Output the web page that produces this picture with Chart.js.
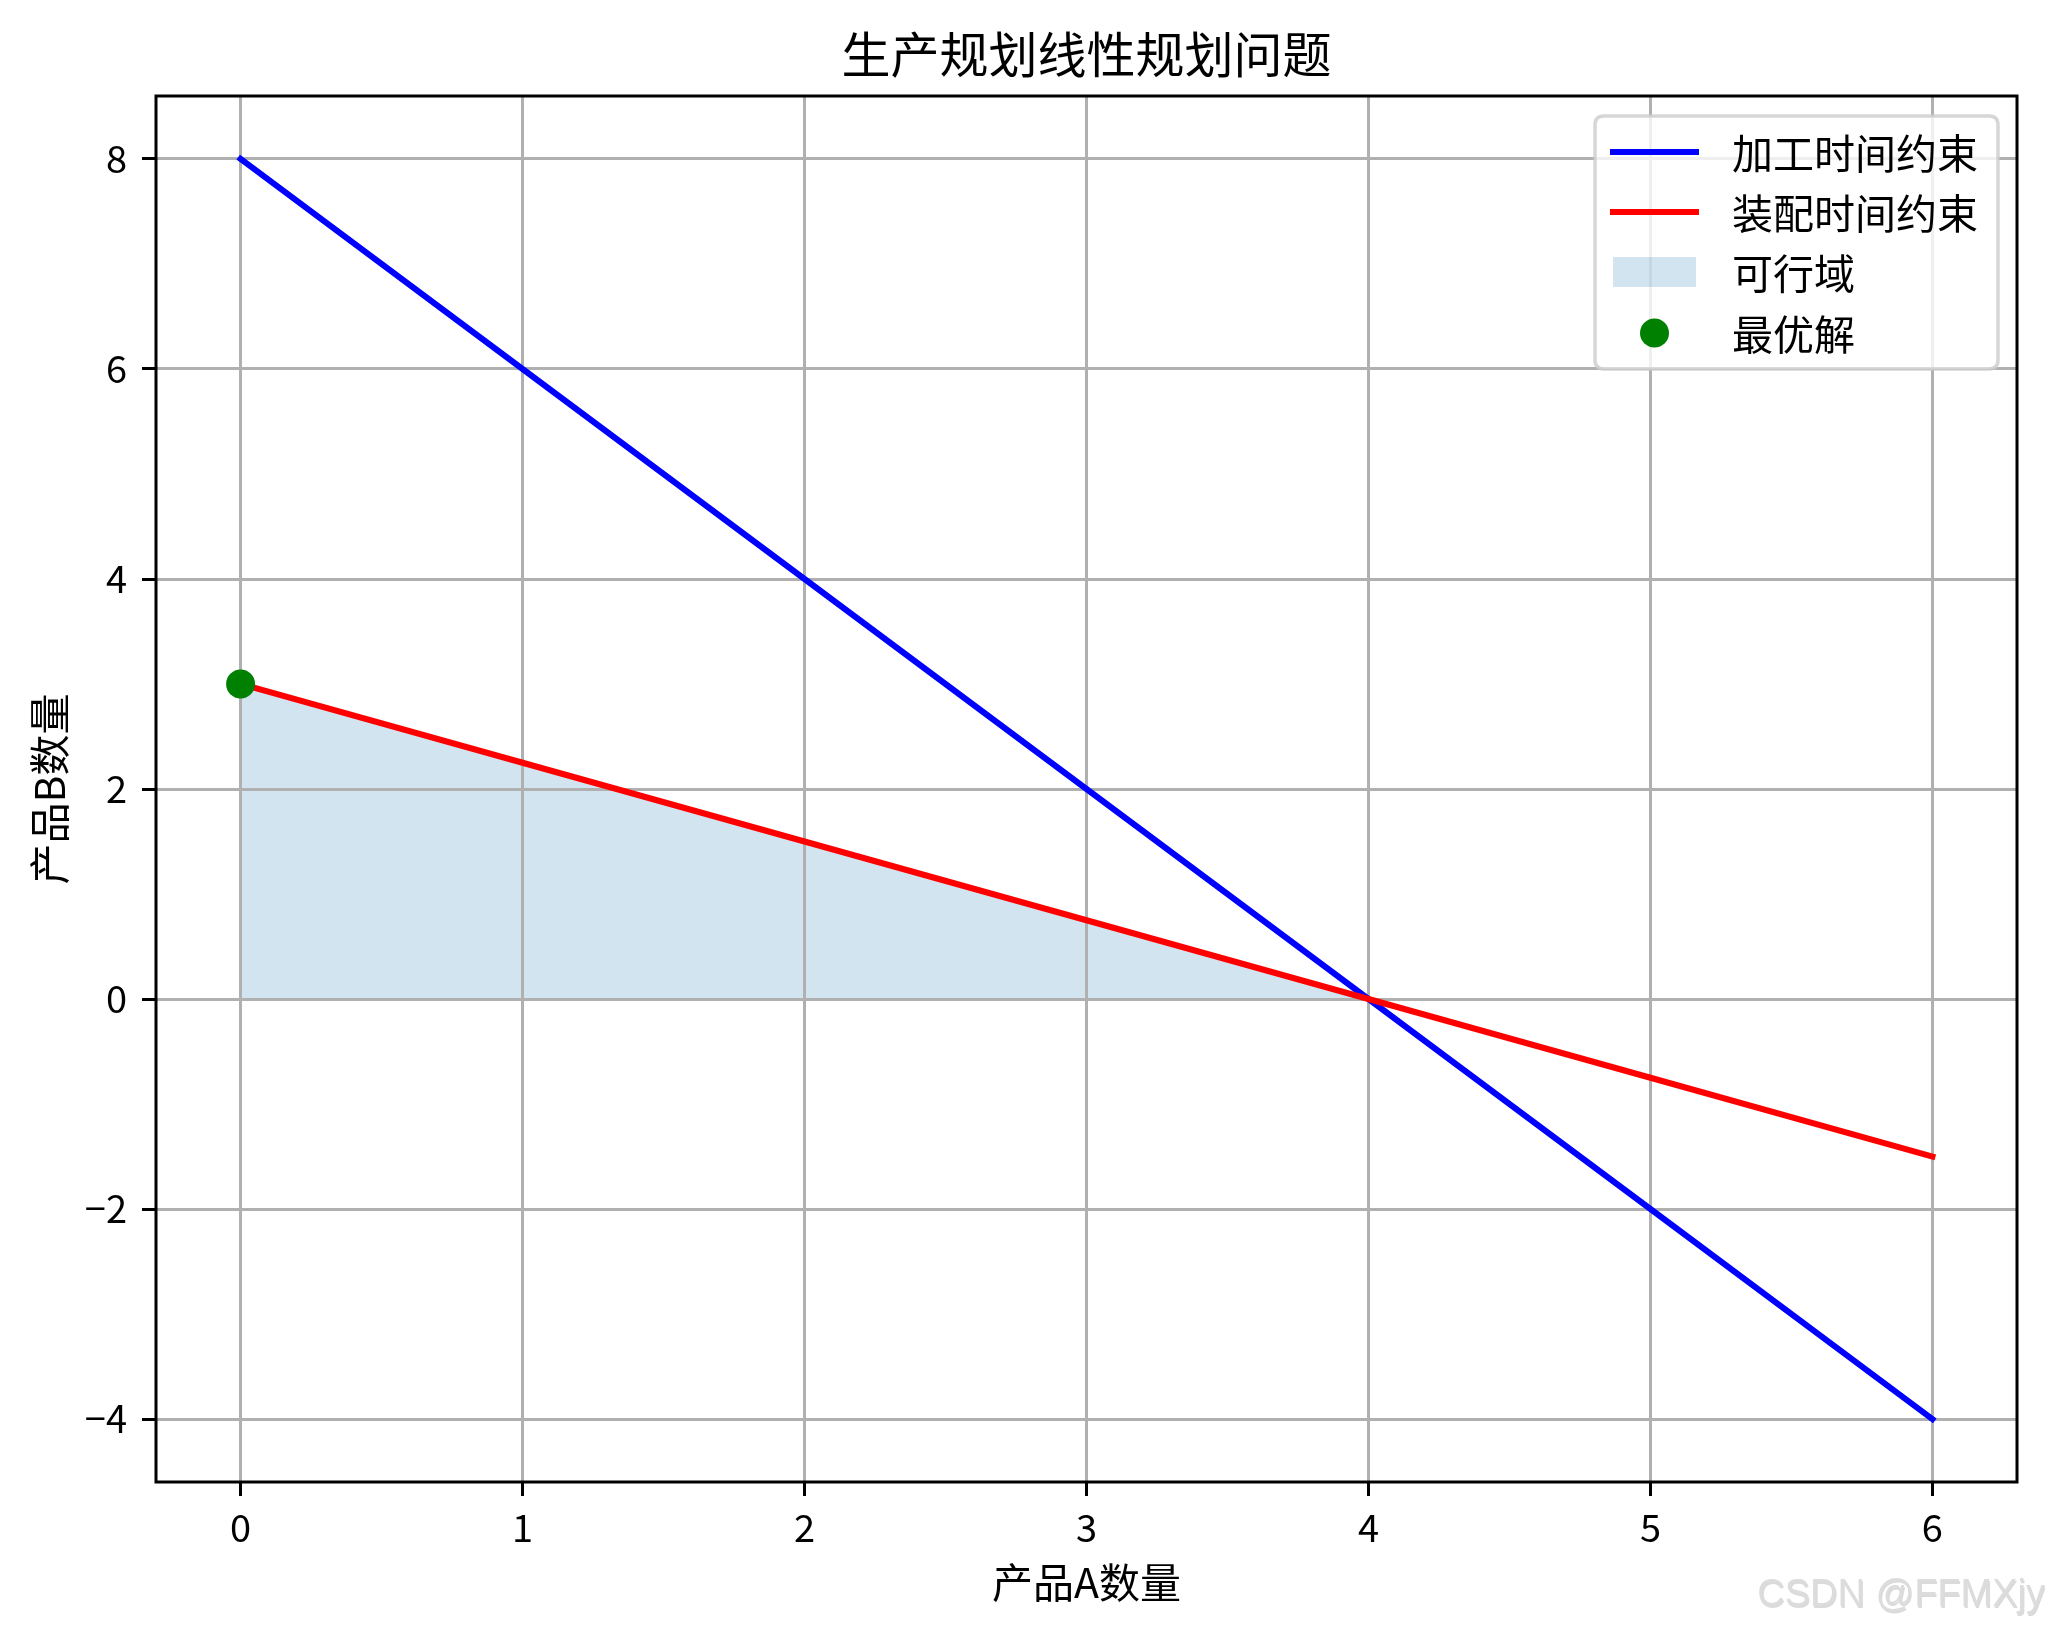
<!DOCTYPE html>
<html><head><meta charset="utf-8">
<script src="https://cdn.jsdelivr.net/npm/chart.js@4/dist/chart.umd.min.js"></script>
<style>html,body{margin:0;padding:0;background:#fff;overflow:hidden}canvas{display:block}</style>
</head><body>
<canvas id="c" width="2045" height="1631" style="width:2045px;height:1631px"></canvas>
<script>
// ---- data ----
const xValues = [0, 1, 2, 3, 4, 5, 6];
const machiningY = [8, 6, 4, 2, 0, -2, -4];          // 加工时间约束
const assemblyY = [3, 2.25, 1.5, 0.75, 0, -0.75, -1.5]; // 装配时间约束
const feasibleX = [0, 1, 2, 3, 4];
const feasibleY = [3, 2.25, 1.5, 0.75, 0];           // 可行域 upper edge
const optimumX = [0];
const optimumY = [3];                                 // 最优解
const xTicks = [0, 1, 2, 3, 4, 5, 6];
const yTicks = [-4, -2, 0, 2, 4, 6, 8];
const seriesNames = ['加工时间约束', '装配时间约束', '可行域', '最优解'];
const chartTitle = '生产规划线性规划问题';
const xAxisTitle = '产品A数量';
const yAxisTitle = '产品B数量';
const watermark = 'CSDN @FFMXjy';

const FONT = "'Noto Sans CJK SC', 'Noto Sans', sans-serif";
const BLUE = '#0000ff', RED = '#ff0000', FILL = 'rgba(31,119,180,0.2)', GREEN = '#008000';

function pts(xs, ys) { return xs.map((x, i) => ({ x: x, y: ys[i] })); }
function fmt(v) { return v < 0 ? '\u2212' + Math.abs(v) : String(v); }

const decor = {
  id: 'mplDecor',
  afterDatasetsDraw(chart) {
    const ctx = chart.ctx, a = chart.chartArea;
    ctx.save();
    ctx.strokeStyle = '#000';
    ctx.lineWidth = 3;
    ctx.strokeRect(a.left, a.top, a.right - a.left, a.bottom - a.top);
    ctx.restore();
  },
  afterDraw(chart) {
    const ctx = chart.ctx, a = chart.chartArea;
    const cx = (a.left + a.right) / 2, cy = (a.top + a.bottom) / 2;
    ctx.save();
    ctx.fillStyle = '#000';
    ctx.textBaseline = 'middle';
    ctx.textAlign = 'center';
    // title
    ctx.font = '49px ' + FONT;
    ctx.fillText(chartTitle, cx, 54);
    // axis titles
    ctx.font = '41px ' + FONT;
    ctx.fillText(xAxisTitle, cx, 1582);
    ctx.save();
    ctx.translate(49, cy);
    ctx.rotate(-Math.PI / 2);
    ctx.fillText(yAxisTitle, 0, 0);
    ctx.restore();

    // legend
    const lx = a.right - 422, ly = a.top + 20, lw = 403, lh = 253, r = 9;
    ctx.beginPath();
    ctx.moveTo(lx + r, ly);
    ctx.lineTo(lx + lw - r, ly); ctx.quadraticCurveTo(lx + lw, ly, lx + lw, ly + r);
    ctx.lineTo(lx + lw, ly + lh - r); ctx.quadraticCurveTo(lx + lw, ly + lh, lx + lw - r, ly + lh);
    ctx.lineTo(lx + r, ly + lh); ctx.quadraticCurveTo(lx, ly + lh, lx, ly + lh - r);
    ctx.lineTo(lx, ly + r); ctx.quadraticCurveTo(lx, ly, lx + r, ly);
    ctx.closePath();
    ctx.fillStyle = 'rgba(255,255,255,0.8)';
    ctx.fill();
    ctx.strokeStyle = 'rgba(204,204,204,0.8)';
    ctx.lineWidth = 3.5;
    ctx.stroke();

    const hx0 = lx + 15, hx1 = lx + 104, tx = lx + 137;
    const rows = [ly + 36, ly + 96, ly + 156, ly + 217];
    ctx.lineCap = 'butt';
    ctx.lineWidth = 6;
    ctx.strokeStyle = BLUE;
    ctx.beginPath(); ctx.moveTo(hx0, rows[0]); ctx.lineTo(hx1, rows[0]); ctx.stroke();
    ctx.strokeStyle = RED;
    ctx.beginPath(); ctx.moveTo(hx0, rows[1]); ctx.lineTo(hx1, rows[1]); ctx.stroke();
    ctx.fillStyle = FILL;
    ctx.fillRect(hx0 + 3, rows[2] - 15, 83, 30);
    ctx.fillStyle = GREEN;
    ctx.beginPath(); ctx.arc((hx0 + hx1) / 2, rows[3], 14.5, 0, Math.PI * 2); ctx.fill();

    ctx.fillStyle = '#000';
    ctx.textAlign = 'left';
    ctx.font = '41px ' + FONT;
    seriesNames.forEach((n, i) => ctx.fillText(n, tx, rows[i] + 1));

    // watermark
    ctx.font = "38px 'Liberation Sans', Arial, sans-serif";
    ctx.textAlign = 'right';
    ctx.fillStyle = 'rgba(150,150,150,0.35)';
    ctx.fillText(watermark, 2046, 1598);
    ctx.fillStyle = '#dcdcdc';
    ctx.fillText(watermark, 2045, 1596);
    ctx.restore();
  }
};

function build() {
  new Chart(document.getElementById('c'), {
    type: 'line',
    data: {
      datasets: [
        { label: seriesNames[0], data: pts(xValues, machiningY), borderColor: BLUE, borderWidth: 6,
          pointRadius: 0, fill: false, borderCapStyle: 'square', order: 3, tension: 0 },
        { label: seriesNames[1], data: pts(xValues, assemblyY), borderColor: RED, borderWidth: 6,
          pointRadius: 0, fill: false, borderCapStyle: 'square', order: 2, tension: 0 },
        { label: seriesNames[2], data: pts(feasibleX, feasibleY), borderWidth: 0, borderColor: 'rgba(0,0,0,0)',
          backgroundColor: FILL, pointRadius: 0, fill: 'origin', order: 4, tension: 0 },
        { label: seriesNames[3], data: pts(optimumX, optimumY), showLine: false, pointRadius: 14.5,
          pointBackgroundColor: GREEN, pointBorderColor: GREEN, pointBorderWidth: 0, order: 1 }
      ]
    },
    options: {
      responsive: false,
      animation: false,
      devicePixelRatio: 1,
      layout: { padding: { top: 96, right: 28, left: 0, bottom: 0 } },
      plugins: {
        legend: { display: false }, tooltip: { enabled: false }, title: { display: false },
        filler: { drawTime: 'beforeDraw' }
      },
      scales: {
        x: {
          type: 'linear', min: -0.3, max: 6.3,
          afterBuildTicks: s => { s.ticks = xTicks.map(v => ({ value: v })); },
          afterFit: s => { s.height = 149; },
          border: { display: false },
          grid: { color: '#b0b0b0', lineWidth: 3, drawTicks: true, tickLength: 14, tickColor: '#000', tickWidth: 3 },
          ticks: { color: '#000', font: { family: FONT, size: 38 }, padding: 9, maxRotation: 0, autoSkip: false,
                   callback: v => fmt(v) }
        },
        y: {
          type: 'linear', min: -4.6, max: 8.6,
          afterBuildTicks: s => { s.ticks = yTicks.map(v => ({ value: v })); },
          afterFit: s => { s.width = 156; },
          border: { display: false },
          grid: { color: '#b0b0b0', lineWidth: 3, drawTicks: true, tickLength: 14, tickColor: '#000', tickWidth: 3 },
          ticks: { color: '#000', font: { family: FONT, size: 38 }, padding: 15, autoSkip: false,
                   callback: v => fmt(v) }
        }
      }
    },
    plugins: [decor]
  });
}
if (document.fonts && document.fonts.load) {
  Promise.all([document.fonts.load('41px ' + FONT, '产品数量'), document.fonts.load("38px 'Liberation Sans'")])
    .then(build, build);
} else build();
</script>
</body></html>
